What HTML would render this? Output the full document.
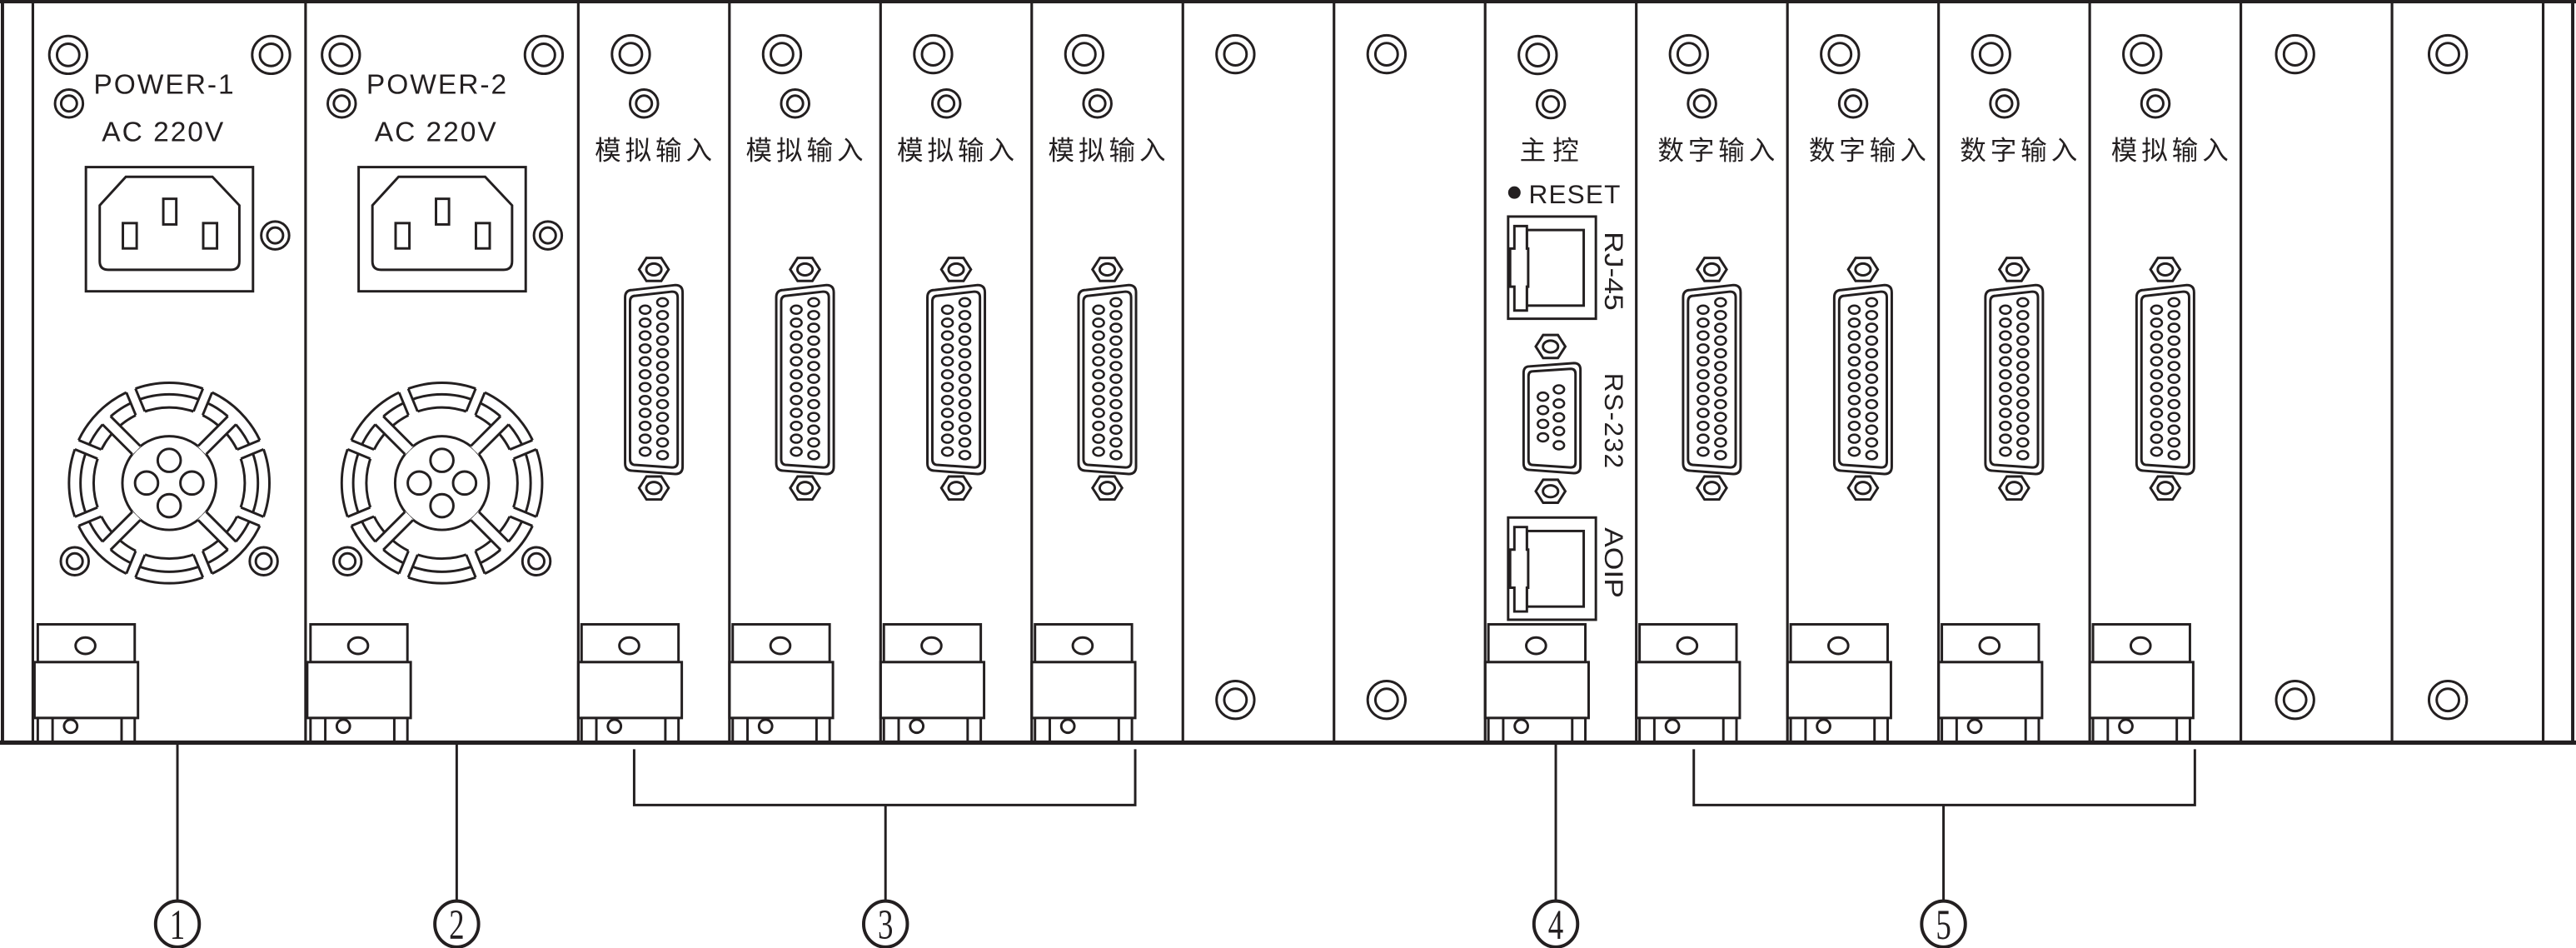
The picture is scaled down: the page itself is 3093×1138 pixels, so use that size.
<!DOCTYPE html>
<html><head><meta charset="utf-8"><style>
html,body{margin:0;padding:0;background:#fff;}
svg{display:block;}
text{fill:#231f20;}
</style></head><body>
<svg width="3093" height="1138" viewBox="0 0 1568 577" preserveAspectRatio="none" xmlns="http://www.w3.org/2000/svg">
<defs>
<g id="sL"><circle r="11.5" fill="none" stroke="#231f20" stroke-width="1.5"/><circle r="6.8" fill="none" stroke="#231f20" stroke-width="1.5"/></g>
<g id="sS"><circle r="8.5" fill="none" stroke="#231f20" stroke-width="1.5"/><circle r="4.8" fill="none" stroke="#231f20" stroke-width="1.5"/></g>
<g id="handle" fill="#fff" stroke="#231f20" stroke-width="1.5">
<rect x="2" y="380" width="59" height="23"/>
<ellipse cx="31" cy="393" rx="6" ry="5" fill="none"/>
<rect x="0" y="403" width="63" height="34"/>
<rect x="2" y="437" width="59" height="15"/>
<line x1="11" y1="437" x2="11" y2="452"/><line x1="53" y1="437" x2="53" y2="452"/>
<circle cx="22" cy="442" r="4" fill="none"/>
</g>
<g id="nut" fill="none" stroke="#231f20" stroke-width="1.5">
<polygon points="-9,0 -4.5,-7 4.5,-7 9,0 4.5,7 -4.5,7"/><ellipse rx="4.6" ry="3.6"/>
</g>
<g id="db25" fill="none" stroke="#231f20" stroke-width="1.5">
<use href="#nut" y="164"/><use href="#nut" y="297"/>
<path d="M -13,176.5 L 13,173.5 Q 17.5,173.5 17.5,178 L 17.5,284 Q 17.5,288.5 13,288.5 L -13,286.5 Q -17.5,286.5 -17.5,282 L -17.5,181 Q -17.5,176.5 -13,176.5 Z"/>
<path d="M -11,180 L 11,177.5 Q 14.5,177.5 14.5,181 L 14.5,281 Q 14.5,284.5 11,284.5 L -11,283 Q -14.5,283 -14.5,279.5 L -14.5,183.5 Q -14.5,180 -11,180 Z"/>
<g stroke-width="1.3">
<ellipse cx="-5.3" cy="188.5" rx="3.3" ry="2.5"/><ellipse cx="-5.3" cy="196.4" rx="3.3" ry="2.5"/><ellipse cx="-5.3" cy="204.2" rx="3.3" ry="2.5"/><ellipse cx="-5.3" cy="212.1" rx="3.3" ry="2.5"/><ellipse cx="-5.3" cy="219.9" rx="3.3" ry="2.5"/><ellipse cx="-5.3" cy="227.8" rx="3.3" ry="2.5"/><ellipse cx="-5.3" cy="235.6" rx="3.3" ry="2.5"/><ellipse cx="-5.3" cy="243.5" rx="3.3" ry="2.5"/><ellipse cx="-5.3" cy="251.3" rx="3.3" ry="2.5"/><ellipse cx="-5.3" cy="259.2" rx="3.3" ry="2.5"/><ellipse cx="-5.3" cy="267" rx="3.3" ry="2.5"/><ellipse cx="-5.3" cy="274.9" rx="3.3" ry="2.5"/>
<ellipse cx="5.3" cy="184" rx="3.3" ry="2.5"/><ellipse cx="5.3" cy="191.8" rx="3.3" ry="2.5"/><ellipse cx="5.3" cy="199.5" rx="3.3" ry="2.5"/><ellipse cx="5.3" cy="207.3" rx="3.3" ry="2.5"/><ellipse cx="5.3" cy="215" rx="3.3" ry="2.5"/><ellipse cx="5.3" cy="222.8" rx="3.3" ry="2.5"/><ellipse cx="5.3" cy="230.5" rx="3.3" ry="2.5"/><ellipse cx="5.3" cy="238.3" rx="3.3" ry="2.5"/><ellipse cx="5.3" cy="246" rx="3.3" ry="2.5"/><ellipse cx="5.3" cy="253.8" rx="3.3" ry="2.5"/><ellipse cx="5.3" cy="261.5" rx="3.3" ry="2.5"/><ellipse cx="5.3" cy="269.3" rx="3.3" ry="2.5"/><ellipse cx="5.3" cy="277" rx="3.3" ry="2.5"/>
</g>
</g>
<g id="card">
<use href="#sL" x="32" y="33"/><use href="#sS" x="40" y="63"/>
<use href="#db25" x="46"/>
<use href="#handle"/>
</g>
<g id="fan" fill="none" stroke="#231f20" stroke-width="1.5">
<circle r="61"/>
<circle r="54"/>
<circle r="46"/>
<circle r="28.5"/>
<g fill="#fff">
<g transform="rotate(22.5)"><rect x="45" y="-3" width="17" height="6" stroke="none"/><line x1="46" y1="-3" x2="60.9" y2="-3"/><line x1="46" y1="3" x2="60.9" y2="3"/></g>
<g transform="rotate(67.5)"><rect x="45" y="-3" width="17" height="6" stroke="none"/><line x1="46" y1="-3" x2="60.9" y2="-3"/><line x1="46" y1="3" x2="60.9" y2="3"/></g>
<g transform="rotate(112.5)"><rect x="45" y="-3" width="17" height="6" stroke="none"/><line x1="46" y1="-3" x2="60.9" y2="-3"/><line x1="46" y1="3" x2="60.9" y2="3"/></g>
<g transform="rotate(157.5)"><rect x="45" y="-3" width="17" height="6" stroke="none"/><line x1="46" y1="-3" x2="60.9" y2="-3"/><line x1="46" y1="3" x2="60.9" y2="3"/></g>
<g transform="rotate(202.5)"><rect x="45" y="-3" width="17" height="6" stroke="none"/><line x1="46" y1="-3" x2="60.9" y2="-3"/><line x1="46" y1="3" x2="60.9" y2="3"/></g>
<g transform="rotate(247.5)"><rect x="45" y="-3" width="17" height="6" stroke="none"/><line x1="46" y1="-3" x2="60.9" y2="-3"/><line x1="46" y1="3" x2="60.9" y2="3"/></g>
<g transform="rotate(292.5)"><rect x="45" y="-3" width="17" height="6" stroke="none"/><line x1="46" y1="-3" x2="60.9" y2="-3"/><line x1="46" y1="3" x2="60.9" y2="3"/></g>
<g transform="rotate(337.5)"><rect x="45" y="-3" width="17" height="6" stroke="none"/><line x1="46" y1="-3" x2="60.9" y2="-3"/><line x1="46" y1="3" x2="60.9" y2="3"/></g>
<g transform="rotate(45)"><rect x="28" y="-3.5" width="27" height="7" stroke="none"/><line x1="28.3" y1="-3.5" x2="54" y2="-3.5"/><line x1="28.3" y1="3.5" x2="54" y2="3.5"/></g>
<g transform="rotate(135)"><rect x="28" y="-3.5" width="27" height="7" stroke="none"/><line x1="28.3" y1="-3.5" x2="54" y2="-3.5"/><line x1="28.3" y1="3.5" x2="54" y2="3.5"/></g>
<g transform="rotate(225)"><rect x="28" y="-3.5" width="27" height="7" stroke="none"/><line x1="28.3" y1="-3.5" x2="54" y2="-3.5"/><line x1="28.3" y1="3.5" x2="54" y2="3.5"/></g>
<g transform="rotate(315)"><rect x="28" y="-3.5" width="27" height="7" stroke="none"/><line x1="28.3" y1="-3.5" x2="54" y2="-3.5"/><line x1="28.3" y1="3.5" x2="54" y2="3.5"/></g>
</g>
<circle cx="0" cy="-13.8" r="7"/><circle cx="-13.8" cy="0" r="7"/><circle cx="13.8" cy="0" r="7"/><circle cx="0" cy="13.8" r="7"/>
</g>
<g id="psu" fill="none" stroke="#231f20" stroke-width="1.5">
<use href="#sL" x="21.5" y="33.4"/><use href="#sL" x="145" y="33.4"/><use href="#sS" x="22" y="63"/>
<rect x="32.3" y="101.7" width="101.7" height="75.6"/>
<path d="M 40.7,125 L 56.6,107.6 L 109.3,107.6 L 125.7,125 L 125.7,159 Q 125.7,164.2 120.5,164.2 L 45.9,164.2 Q 40.7,164.2 40.7,159 Z"/>
<rect x="54.8" y="135.8" width="8.4" height="15.4"/>
<rect x="79.4" y="121" width="7.9" height="15.6"/>
<rect x="103.7" y="135.8" width="8.4" height="15.4"/>
<use href="#sS" x="147.5" y="143.3"/>
<use href="#fan" x="83" y="294"/>
<use href="#sS" x="25.5" y="341.6"/><use href="#sS" x="140.5" y="341.6"/>
<use href="#handle" x="1"/>
</g>
<g id="rj" fill="#fff" stroke="#231f20" stroke-width="1.5">
<rect x="0" y="0" width="53.4" height="62.2"/>
<rect x="11.4" y="8.2" width="34.6" height="46"/>
<path d="M 3.8,5.8 L 11.4,5.8 L 11.4,19.5 L 12.2,19.5 L 12.2,42.7 L 11.4,42.7 L 11.4,57.2 L 3.8,57.2 L 3.8,42.7 L 1.2,42.7 L 1.2,19.5 L 3.8,19.5 Z"/>
</g>
</defs>

<g fill="none" stroke="#231f20">
<line x1="1.5" y1="0" x2="1.5" y2="452" stroke-width="2"/>
<line x1="0" y1="1" x2="1568" y2="1" stroke-width="2"/>
<line x1="1566" y1="0" x2="1566" y2="452" stroke-width="2"/>
</g>

<use href="#psu" x="20"/>
<use href="#psu" x="186"/>
<g font-family="Liberation Sans, sans-serif" font-size="17" letter-spacing="1">
<text x="57" y="57">POWER-1</text><text x="62" y="86">AC 220V</text>
<text x="223" y="57">POWER-2</text><text x="228" y="86">AC 220V</text>
</g>

<use href="#card" x="352"/><use href="#card" x="444"/><use href="#card" x="536"/><use href="#card" x="628"/>
<use href="#card" x="996"/><use href="#card" x="1088"/><use href="#card" x="1180"/><use href="#card" x="1272"/>
<g font-family="Liberation Sans, 'Noto Sans CJK SC', sans-serif" font-size="16" letter-spacing="2.5" text-anchor="middle">
<text x="399" y="97">模拟输入</text><text x="491" y="97">模拟输入</text><text x="583" y="97">模拟输入</text><text x="675" y="97">模拟输入</text>
<text x="1046" y="97">数字输入</text><text x="1138" y="97">数字输入</text><text x="1230" y="97">数字输入</text><text x="1322" y="97">模拟输入</text>
<text x="945" y="97" letter-spacing="4">主控</text>
</g>

<use href="#sL" x="752" y="33"/><use href="#sL" x="752" y="426"/>
<use href="#sL" x="844" y="33"/><use href="#sL" x="844" y="426"/>
<use href="#sL" x="1397" y="33"/><use href="#sL" x="1397" y="426"/>
<use href="#sL" x="1490" y="33"/><use href="#sL" x="1490" y="426"/>

<use href="#sL" x="936" y="33.5"/><use href="#sS" x="944" y="63.4"/>
<circle cx="921.8" cy="117.2" r="3.8" fill="#231f20"/>
<text x="930.5" y="123.6" font-family="Liberation Sans, sans-serif" font-size="16" letter-spacing="0.6">RESET</text>
<use href="#rj" x="918" y="131.8"/>
<use href="#rj" x="918" y="315"/>
<g fill="none" stroke="#231f20" stroke-width="1.5">
<use href="#nut" x="943.8" y="210.9"/><use href="#nut" x="943.8" y="299"/>
<path d="M 931,223 L 958,221 Q 962,221 962,225 L 962,284 Q 962,288 958,288 L 931,286 Q 927.4,286 927.4,282 L 927.4,227 Q 927.4,223 931,223 Z"/>
<path d="M 933,226 L 956,224.5 Q 959,224.5 959,227.5 L 959,281.5 Q 959,284.5 956,284.5 L 933,283 Q 930.4,283 930.4,280 L 930.4,229 Q 930.4,226 933,226 Z"/>
<g stroke-width="1.3">
<ellipse cx="939.2" cy="241.4" rx="3.2" ry="2.5"/><ellipse cx="939.2" cy="249.6" rx="3.2" ry="2.5"/><ellipse cx="939.2" cy="258" rx="3.2" ry="2.5"/><ellipse cx="939.2" cy="266.2" rx="3.2" ry="2.5"/>
<ellipse cx="948.9" cy="237" rx="3.2" ry="2.5"/><ellipse cx="948.9" cy="245.6" rx="3.2" ry="2.5"/><ellipse cx="948.9" cy="254" rx="3.2" ry="2.5"/><ellipse cx="948.9" cy="262.4" rx="3.2" ry="2.5"/><ellipse cx="948.9" cy="271" rx="3.2" ry="2.5"/>
</g>
</g>
<g font-family="Liberation Sans, sans-serif" font-size="16">
<text transform="translate(977,141) rotate(90)" textLength="48" lengthAdjust="spacingAndGlyphs">RJ-45</text>
<text transform="translate(977,227) rotate(90)" textLength="59" lengthAdjust="spacing" letter-spacing="1">RS-232</text>
<text transform="translate(977,321) rotate(90)" textLength="43" lengthAdjust="spacingAndGlyphs">AOIP</text>
</g>
<use href="#handle" x="904"/>

<g stroke="#231f20" stroke-width="1.6">
<line x1="20" y1="0" x2="20" y2="452"/><line x1="186" y1="0" x2="186" y2="452"/><line x1="352" y1="0" x2="352" y2="452"/>
<line x1="444" y1="0" x2="444" y2="452"/><line x1="536" y1="0" x2="536" y2="452"/><line x1="628" y1="0" x2="628" y2="452"/>
<line x1="720" y1="0" x2="720" y2="452"/><line x1="812" y1="0" x2="812" y2="452"/><line x1="904" y1="0" x2="904" y2="452"/>
<line x1="996" y1="0" x2="996" y2="452"/><line x1="1088" y1="0" x2="1088" y2="452"/><line x1="1180" y1="0" x2="1180" y2="452"/>
<line x1="1272" y1="0" x2="1272" y2="452"/><line x1="1364" y1="0" x2="1364" y2="452"/><line x1="1456" y1="0" x2="1456" y2="452"/>
<line x1="1548" y1="0" x2="1548" y2="452"/>
</g>
<line x1="0" y1="452" x2="1568" y2="452" stroke="#231f20" stroke-width="2.6"/>

<g fill="none" stroke="#231f20" stroke-width="1.5">
<line x1="108" y1="452" x2="108" y2="548"/>
<line x1="278" y1="452" x2="278" y2="548"/>
<polyline points="386,456 386,490 691,490 691,456"/><line x1="539" y1="490" x2="539" y2="548"/>
<line x1="947" y1="452" x2="947" y2="548"/>
<polyline points="1031,456 1031,490 1336,490 1336,456"/><line x1="1183" y1="490" x2="1183" y2="548"/>
<g stroke-width="2">
<ellipse cx="108" cy="562.4" rx="13.3" ry="14"/>
<ellipse cx="278" cy="562.4" rx="13.3" ry="14"/>
<ellipse cx="539" cy="562.4" rx="13.3" ry="14"/>
<ellipse cx="947" cy="562.4" rx="13.3" ry="14"/>
<ellipse cx="1183" cy="562.4" rx="13.3" ry="14"/>
</g>
</g>
<g font-family="Liberation Serif, serif" font-size="26" text-anchor="middle">
<text x="108" y="571.5" transform="translate(108,0) scale(0.72,1) translate(-108,0)">1</text>
<text x="278" y="571.5" transform="translate(278,0) scale(0.72,1) translate(-278,0)">2</text>
<text x="539" y="571.5" transform="translate(539,0) scale(0.72,1) translate(-539,0)">3</text>
<text x="947" y="571.5" transform="translate(947,0) scale(0.72,1) translate(-947,0)">4</text>
<text x="1183" y="571.5" transform="translate(1183,0) scale(0.72,1) translate(-1183,0)">5</text>
</g>
</svg>
</body></html>
